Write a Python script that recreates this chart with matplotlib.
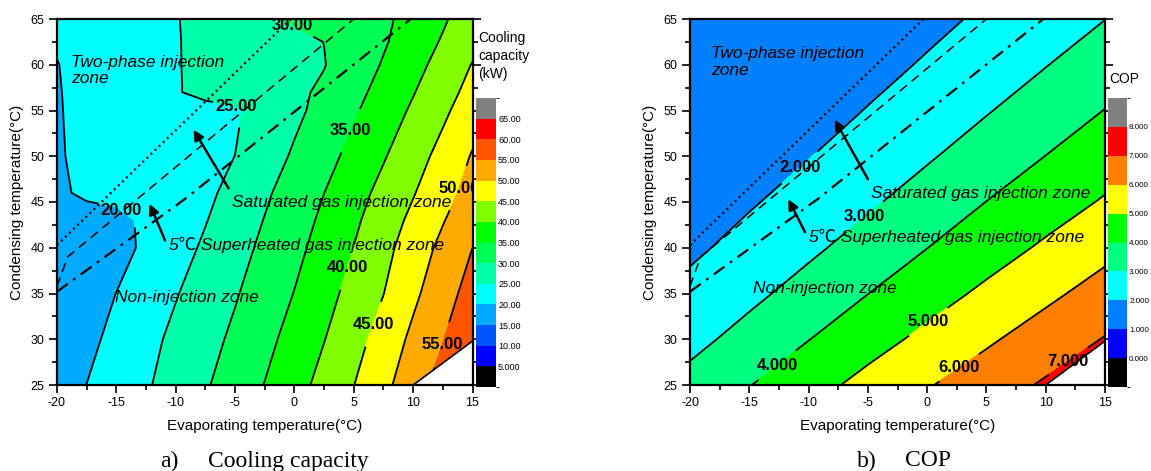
import numpy as np
import matplotlib
matplotlib.use('Agg')
import matplotlib.pyplot as plt
from matplotlib.colors import ListedColormap, BoundaryNorm
from matplotlib.cm import ScalarMappable

plt.rcParams['font.family'] = ['Liberation Sans', 'DejaVu Sans']
plt.rcParams['axes.unicode_minus'] = False

# cooling capacity (kW), rows = condensing temp, cols = evaporating temp
cap_evap = [-20, -17.5, -15, -12.5, -10, -7.5, -5, -2.5, 0, 2.5, 5, 7.5, 10, 12.5, 15]
cap_cond = [25, 30, 35, 40, 43, 46, 50, 55, 57, 60, 62.5, 65]
capacity = [
    [17.82, 20.04, 22.27, 24.49, 26.97, 29.53, 32.30, 35.13, 38.25, 41.51, 44.93, 48.77, 52.83, 57.00, 59.00],
    [16.80, 18.85, 21.25, 23.65, 26.04, 28.40, 30.90, 33.70, 36.72, 39.87, 43.24, 47.00, 51.06, 54.85, 58.90],
    [16.60, 17.90, 20.05, 22.39, 24.73, 27.16, 29.60, 32.33, 35.13, 38.33, 41.60, 44.93, 49.02, 52.97, 56.94],
    [16.30, 17.30, 18.41, 20.82, 23.22, 25.68, 28.29, 30.97, 33.74, 36.79, 40.07, 43.59, 47.34, 51.21, 55.00],
    [16.40, 18.80, 18.60, 20.90, 22.84, 24.79, 27.43, 30.17, 32.96, 35.89, 39.15, 42.57, 46.09, 49.71, 53.48],
    [19.50, 20.52, 21.52, 22.52, 23.52, 24.52, 25.70, 29.29, 32.13, 34.97, 38.15, 41.39, 44.70, 48.22, 51.79],
    [19.75, 20.63, 21.50, 22.38, 23.26, 24.13, 25.02, 27.80, 30.60, 33.42, 36.41, 39.62, 42.97, 46.54, 50.38],
    [19.83, 20.66, 21.49, 22.31, 23.14, 23.96, 24.40, 27.05, 28.96, 31.57, 34.43, 37.50, 40.68, 44.05, 47.73],
    [19.80, 21.00, 22.27, 23.50, 24.75, 25.88, 26.97, 28.07, 29.17, 30.70, 33.60, 36.63, 39.75, 43.10, 46.57],
    [19.90, 21.13, 22.35, 23.58, 24.80, 25.84, 26.84, 27.84, 28.84, 29.84, 32.44, 35.37, 38.41, 41.69, 45.21],
    [20.30, 21.40, 22.50, 23.60, 24.80, 25.88, 26.92, 27.96, 29.00, 30.04, 32.30, 34.51, 37.38, 40.45, 43.65],
    [20.60, 21.60, 22.60, 23.60, 24.80, 26.22, 27.67, 29.13, 30.51, 31.77, 33.03, 34.29, 36.34, 39.39, 42.63],
]

# COP
cop_evap = [-20, -15, -10, -5, 0, 5, 10, 15]
cop_cond = [25, 30, 35, 40, 45, 50, 55, 60, 65]
cop = [
    [3.30, 3.97, 4.64, 5.30, 5.93, 6.52, 7.12, 7.71],
    [2.73, 3.33, 3.98, 4.62, 5.24, 5.86, 6.46, 7.05],
    [2.26, 2.78, 3.36, 3.99, 4.59, 5.19, 5.79, 6.39],
    [1.82, 2.32, 2.82, 3.39, 3.99, 4.57, 5.14, 5.73],
    [1.42, 1.91, 2.38, 2.86, 3.42, 4.01, 4.55, 5.09],
    [1.10, 1.51, 1.97, 2.44, 2.90, 3.45, 4.01, 4.53],
    [1.10, 1.15, 1.59, 2.04, 2.49, 2.94, 3.47, 4.02],
    [1.10, 1.15, 1.24, 1.67, 2.10, 2.54, 2.97, 3.50],
    [1.10, 1.15, 1.20, 1.33, 1.74, 2.16, 2.58, 2.99],
]

cap_levels = [0, 5, 10, 15, 20, 25, 30, 35, 40, 45, 50, 55, 60, 65, 70]
cap_colors = ['#000000', '#0000ff', '#0055ff', '#00aaff', '#00ffff', '#00ffaa', '#00ff55',
              '#00ff00', '#80ff00', '#ffff00', '#ffaa00', '#ff5500', '#ff0000', '#808080']
cap_lines = [20, 25, 30, 35, 40, 45, 50, 55]
cap_ticklabels = ['5.000', '10.00', '15.00', '20.00', '25.00', '30.00', '35.00', '40.00',
                  '45.00', '50.00', '55.00', '60.00', '65.00']

cop_levels = [-1, 0, 1, 2, 3, 4, 5, 6, 7, 8, 9]
cop_colors = ['#000000', '#0000ff', '#0080ff', '#00ffff', '#00ff80', '#00ff00',
              '#ffff00', '#ff8000', '#ff0000', '#808080']
cop_lines = [2, 3, 4, 5, 6, 7]
cop_ticklabels = ['0.000', '1.000', '2.000', '3.000', '4.000', '5.000', '6.000', '7.000', '8.000']

# injection zone boundaries (same on both charts)
two_phase_x = [-20, -0.3]
two_phase_y = [40.3, 65]
sat_x = [-20, -19.1, 5]
sat_y = [35.8, 39.0, 65]
sh5_x = [-20, -9.2, 9.8]
sh5_y = [35.2, 45.35, 65]

# no-data corner
cut_x = [10, 15]
cut_y = [25, 29.8]

W, H = 1151, 471
fig = plt.figure(figsize=(W / 100, H / 100), dpi=100)


def box(x0, y0, x1, y1):
    return [x0 / W, 1 - y1 / H, (x1 - x0) / W, (y1 - y0) / H]


def panel(ax, cax, x, y, z, levels, colors, lines, fmt, labpos, ticklabels, cbsize):
    ax.contourf(x, y, z, levels=levels, colors=colors)
    cs = ax.contour(x, y, z, levels=lines, colors='k', linewidths=1.3)
    ax.fill_between(cut_x, 25, cut_y, color='white', zorder=2.5)
    ax.plot(cut_x, cut_y, color='k', lw=1.2, zorder=2.6)
    labs = ax.clabel(cs, fmt=fmt, manual=labpos, inline=True, inline_spacing=3, fontsize=12)
    for t in labs:
        t.set_rotation(0)
        t.set_fontweight('bold')
        t.set_zorder(6)

    ax.plot(two_phase_x, two_phase_y, color='k', lw=1.7, ls=(0, (0.8, 1.6)), zorder=4)
    ax.plot(sat_x, sat_y, color='k', lw=1.1, ls=(0, (6, 4)), zorder=4)
    ax.plot(sh5_x, sh5_y, color='k', lw=1.6, ls=(0, (6, 3, 1.2, 3)), zorder=4)

    ax.set_xlim(-20, 15)
    ax.set_ylim(25, 65)
    ax.set_xticks(np.arange(-20, 16, 5))
    ax.set_xticks(np.arange(-20, 16, 2.5), minor=True)
    ax.set_yticks(np.arange(25, 66, 5))
    ax.set_yticks(np.arange(25, 66, 2.5), minor=True)
    ax.tick_params(which='both', direction='out', right=True, top=False, labelsize=9, width=1.2)
    ax.tick_params(which='major', length=6, pad=3)
    ax.tick_params(which='minor', length=3.5)
    for s in ax.spines.values():
        s.set_linewidth(1.6)
    ax.set_xlabel('Evaporating temperature(°C)', fontsize=11, labelpad=7)
    ax.set_ylabel('Condensing temperature(°C)', fontsize=11, labelpad=5)

    cmap = ListedColormap(colors)
    norm = BoundaryNorm(levels, cmap.N)
    cb = fig.colorbar(ScalarMappable(norm=norm, cmap=cmap), cax=cax, ticks=levels[1:-1])
    cb.outline.set_visible(False)
    cb.set_ticklabels(ticklabels)
    cax.tick_params(length=0, labelsize=cbsize, pad=1.5)


ax1 = fig.add_axes(box(57, 19, 472.5, 385))
cax1 = fig.add_axes(box(476, 98, 496, 387))
ax2 = fig.add_axes(box(690, 19, 1105, 385))
cax2 = fig.add_axes(box(1108, 98, 1127, 387))

panel(ax1, cax1, cap_evap, cap_cond, capacity, cap_levels, cap_colors, cap_lines, '%.2f',
      [(-14.5, 44.3), (-5.1, 55.0), (-0.5, 63.7), (4.7, 52.8), (4.4, 37.9),
       (6.5, 31.7), (13.6, 46.6), (12.4, 29.4)], cap_ticklabels, 6.5)
panel(ax2, cax2, cop_evap, cop_cond, cop, cop_levels, cop_colors, cop_lines, '%.3f',
      [(-10.9, 49.0), (-5.6, 43.9), (-12.7, 27.2), (0.0, 32.1), (2.7, 26.9), (12.0, 27.4)],
      cop_ticklabels, 5.8)

zfont = dict(fontsize=12.5, style='italic', family=['Liberation Sans', 'Noto Sans CJK SC'], zorder=7)
aprops = dict(arrowstyle='-|>', color='k', lw=1.8, mutation_scale=15, shrinkA=0, shrinkB=0)

# left chart annotations
ax1.text(-18.8, 61.1, 'Two-phase injection\nzone', va='top', ha='left', linespacing=1.1, **zfont)
ax1.text(-5.3, 45.0, 'Saturated gas injection zone', va='center', ha='left', **zfont)
ax1.text(-10.6, 40.3, '5℃ Superheated gas injection zone', va='center', ha='left', **zfont)
ax1.text(-15.1, 34.6, 'Non-injection zone', va='center', ha='left', **zfont)
ax1.annotate('', xy=(-8.5, 52.9), xytext=(-5.55, 46.5), arrowprops=aprops, zorder=7)
ax1.annotate('', xy=(-12.2, 44.8), xytext=(-10.9, 40.8), arrowprops=aprops, zorder=7)

# right chart annotations
ax2.text(-18.2, 62.0, 'Two-phase injection\nzone', va='top', ha='left', linespacing=1.1, **zfont)
ax2.text(-4.7, 45.9, 'Saturated gas injection zone', va='center', ha='left', **zfont)
ax2.text(-10.0, 41.2, '5℃ Superheated gas injection zone', va='center', ha='left', **zfont)
ax2.text(-14.7, 35.5, 'Non-injection zone', va='center', ha='left', **zfont)
ax2.annotate('', xy=(-7.8, 54.0), xytext=(-5.0, 47.5), arrowprops=aprops, zorder=7)
ax2.annotate('', xy=(-11.7, 45.3), xytext=(-10.3, 41.7), arrowprops=aprops, zorder=7)

# colorbar titles
fig.text(478 / W, 1 - 31 / H, 'Cooling\ncapacity\n(kW)', fontsize=10, va='top', ha='left', linespacing=1.35)
fig.text(1109 / W, 1 - 72 / H, 'COP', fontsize=10, va='top', ha='left')

# captions
cap_font = dict(family=['Liberation Serif', 'DejaVu Serif'], fontsize=17, va='center', ha='left')
fig.text(160 / W, 1 - 461 / H, 'a)', **cap_font)
fig.text(208 / W, 1 - 461 / H, 'Cooling capacity', **cap_font)
fig.text(857 / W, 1 - 461 / H, 'b)', **cap_font)
fig.text(905 / W, 1 - 461 / H, 'COP', **cap_font)

fig.savefig('out.png', dpi=100)
